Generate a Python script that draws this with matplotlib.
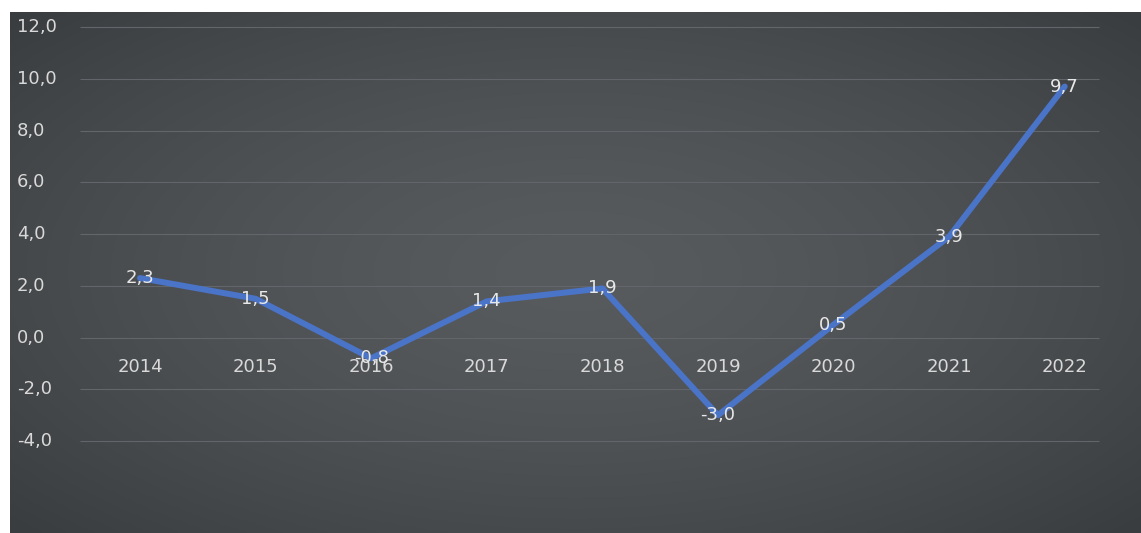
import numpy as np
import matplotlib
matplotlib.use('Agg')
import matplotlib.pyplot as plt
from matplotlib.transforms import blended_transform_factory

years = ['2014', '2015', '2016', '2017', '2018', '2019', '2020', '2021', '2022']
growth = [2.3, 1.5, -0.8, 1.4, 1.9, -3.0, 0.5, 3.9, 9.7]
yticks = [12, 10, 8, 6, 4, 2, 0, -2, -4]

def fmt(v):
    return ('%.1f' % v).replace('.', ',')

W, H = 1141, 533
fig = plt.figure(figsize=(W / 100, H / 100), dpi=100, facecolor='white')
ax = fig.add_axes([10 / W, 0, 1131 / W, 521 / H])

ax.set_xlim(-1.125, 8.66)
ax.set_ylim(-7.55, 12.58)
ax.axis('off')

# radial dark-grey background, lighter in the middle
gx, gy = np.meshgrid(np.linspace(-1, 1, 400), np.linspace(-1, 1, 200))
r = np.sqrt((gx * 0.95) ** 2 + (gy * 0.9) ** 2)
light = np.array([0x58, 0x5b, 0x5e]) / 255
dark = np.array([0x3a, 0x3d, 0x40]) / 255
t = np.clip(r / 1.3, 0, 1)[..., None] ** 1.5
img = light * (1 - t) + dark * t
ax.imshow(img, extent=[-1.125, 8.66, -7.55, 12.58], aspect='auto', zorder=0)

# gridlines
ax.hlines(yticks, -0.52, 8.3, color='#62656a', lw=0.8, zorder=1)

font = dict(family='DejaVu Sans', fontsize=13)

# y tick labels along the left edge
tr = blended_transform_factory(ax.transAxes, ax.transData)
for v in yticks:
    ax.text(0.006, v, fmt(v), transform=tr, ha='left', va='center',
            color='#d9d9d9', zorder=3, **font)

# category labels sit just below the zero line
x = np.arange(len(years))
for xi, yr in zip(x, years):
    ax.text(xi, -1.15, yr, ha='center', va='center', color='#d9d9d9',
            zorder=3, **font)

ax.plot(x, growth, color='#4a74c8', lw=4.3, solid_joinstyle='round',
        solid_capstyle='round', zorder=2)

for xi, v in zip(x, growth):
    ax.text(xi, v, fmt(v), ha='center', va='center', color='#e8e8e8',
            zorder=4, **font)

fig.savefig('out.png', dpi=100, facecolor='white')
